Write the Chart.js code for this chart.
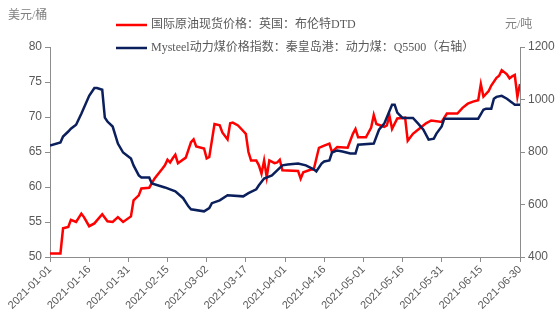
<!DOCTYPE html>
<html>
<head>
<meta charset="utf-8">
<script src="https://cdn.jsdelivr.net/npm/chart.js@4.4.1/dist/chart.umd.min.js"></script>
<style>
  html, body { margin: 0; padding: 0; background: #ffffff; }
  #wrap { width: 558px; height: 336px; position: relative; }
</style>
</head>
<body>
<div id="wrap"><canvas id="c" width="558" height="336"></canvas></div>
<script>
// ---- data ----
const oilLabel = "国际原油现货价格：英国：布伦特DTD";
const coalLabel = "Mysteel动力煤价格指数：秦皇岛港：动力煤：Q5500（右轴）";
const leftUnit = "美元/桶";
const rightUnit = "元/吨";

const oilDates = [
  "2021-01-01","2021-01-05","2021-01-06","2021-01-08","2021-01-09","2021-01-11","2021-01-13","2021-01-14",
  "2021-01-16","2021-01-18","2021-01-21","2021-01-23","2021-01-25","2021-01-27","2021-01-29","2021-02-01",
  "2021-02-02","2021-02-04","2021-02-05","2021-02-08","2021-02-10","2021-02-13","2021-02-14","2021-02-15",
  "2021-02-16","2021-02-17","2021-02-18","2021-02-19","2021-02-22","2021-02-24","2021-02-25","2021-02-26",
  "2021-03-01","2021-03-02","2021-03-03","2021-03-05","2021-03-07","2021-03-08","2021-03-10","2021-03-11",
  "2021-03-12","2021-03-14","2021-03-16","2021-03-17","2021-03-18","2021-03-19","2021-03-21","2021-03-22",
  "2021-03-23","2021-03-24","2021-03-25","2021-03-26","2021-03-28","2021-03-29","2021-03-30","2021-03-31",
  "2021-04-06","2021-04-07","2021-04-08","2021-04-11","2021-04-12","2021-04-14","2021-04-16","2021-04-18",
  "2021-04-19","2021-04-21","2021-04-25","2021-04-27","2021-04-28","2021-04-29","2021-05-02","2021-05-04",
  "2021-05-05","2021-05-06","2021-05-09","2021-05-10","2021-05-11","2021-05-12","2021-05-14","2021-05-17",
  "2021-05-18","2021-05-20","2021-05-23","2021-05-25","2021-05-27","2021-05-31","2021-06-02","2021-06-06",
  "2021-06-08","2021-06-10","2021-06-12","2021-06-14","2021-06-15","2021-06-16","2021-06-18","2021-06-19",
  "2021-06-21","2021-06-22","2021-06-23","2021-06-25","2021-06-26","2021-06-27","2021-06-28","2021-06-29",
  "2021-06-30"
];
const oilValues = [
  50.5,50.5,54.1,54.3,55.3,55.0,56.2,55.7,
  54.4,54.8,56.1,55.1,55.0,55.7,55.0,55.8,
  58.1,58.8,59.8,59.9,61.2,62.6,63.1,63.9,
  63.5,64.1,64.6,63.4,64.2,66.4,66.8,65.8,
  65.5,64.1,64.3,69.0,68.8,67.8,66.8,69.1,
  69.2,68.8,68.0,67.6,65.0,63.8,63.8,63.1,
  61.9,63.8,61.4,63.8,63.4,63.5,63.9,62.4,
  62.3,61.2,62.1,62.5,62.5,65.6,65.9,66.2,
  65.0,65.7,65.6,67.6,68.3,67.1,67.1,68.5,
  70.3,69.0,68.6,68.8,70.2,68.3,69.8,69.9,
  66.6,67.6,68.5,69.1,69.5,69.3,70.5,70.5,
  71.3,71.9,72.2,72.4,74.7,72.9,73.7,74.5,
  75.6,75.9,76.7,76.1,75.5,75.8,76.0,72.9,
  74.7
];

const coalDates = [
  "2021-01-01","2021-01-05","2021-01-06","2021-01-08","2021-01-09","2021-01-11","2021-01-13","2021-01-16",
  "2021-01-18","2021-01-19","2021-01-21","2021-01-22","2021-01-23","2021-01-25","2021-01-27","2021-01-29",
  "2021-02-01","2021-02-02","2021-02-04","2021-02-05","2021-02-08","2021-02-09","2021-02-14","2021-02-18",
  "2021-02-21","2021-02-23","2021-02-24","2021-03-01","2021-03-03","2021-03-04","2021-03-07","2021-03-10",
  "2021-03-16","2021-03-18","2021-03-21","2021-03-22","2021-03-24","2021-03-27","2021-03-29","2021-03-31",
  "2021-04-02","2021-04-06","2021-04-09","2021-04-12","2021-04-13","2021-04-15","2021-04-16","2021-04-18",
  "2021-04-19","2021-04-21","2021-04-23","2021-04-26","2021-04-28","2021-04-29","2021-05-05","2021-05-07",
  "2021-05-09","2021-05-12","2021-05-13","2021-05-14","2021-05-16","2021-05-20","2021-05-22","2021-05-24",
  "2021-05-26","2021-05-28","2021-05-29","2021-05-31","2021-06-01","2021-06-14","2021-06-16","2021-06-17",
  "2021-06-19","2021-06-20","2021-06-21","2021-06-23","2021-06-25","2021-06-27","2021-06-28","2021-06-30"
];
const coalValues = [
  825,836,859,878,889,904,946,1014,
  1044,1044,1037,931,916,897,832,798,
  775,749,711,703,703,680,665,650,
  624,593,582,574,586,605,616,635,
  631,643,658,673,699,711,730,749,
  752,756,749,734,726,756,764,768,
  798,806,802,794,794,828,832,885,
  908,980,980,950,930,930,908,885,
  847,851,870,897,927,927,961,965,
  965,1003,1010,1014,1003,988,980,980
];

const startDate = "2021-01-01";
const endDate = "2021-06-30";
const xTickStepDays = 15;
const leftTicks = [50, 55, 60, 65, 70, 75, 80];
const rightTicks = [400, 600, 800, 1000, 1200];

// ---- helpers ----
const DAY = 86400000;
function toDay(s) {
  const p = s.split("-").map(Number);
  return Math.round((Date.UTC(p[0], p[1] - 1, p[2]) - Date.UTC(2021, 0, 1)) / DAY);
}
function dayToStr(d) {
  const dt = new Date(Date.UTC(2021, 0, 1) + d * DAY);
  const m = String(dt.getUTCMonth() + 1).padStart(2, "0");
  const dd = String(dt.getUTCDate()).padStart(2, "0");
  return dt.getUTCFullYear() + "-" + m + "-" + dd;
}
const oilPts = oilDates.map((d, i) => ({ x: toDay(d), y: oilValues[i] }));
const coalPts = coalDates.map((d, i) => ({ x: toDay(d), y: coalValues[i] }));

const axisColor = "#8c8c8c";
const textColor = "#595959";
const tickFont = { family: "'Liberation Sans', 'Noto Sans CJK SC', sans-serif", size: 12 };
const legendFont = "12px 'Liberation Serif', 'Noto Sans CJK SC', serif";
const red = "#ff0000";
const navy = "#0a1f5c";

const overlay = {
  id: "overlay",
  afterDraw(chart) {
    const ctx = chart.ctx;
    ctx.save();
    ctx.font = legendFont;
    ctx.textBaseline = "middle";
    ctx.textAlign = "left";
    // unit labels
    ctx.fillStyle = "#7f7f7f";
    ctx.fillText(leftUnit, 8, 16);
    ctx.fillText(rightUnit, 505, 25);
    // legend
    const items = [[red, oilLabel, 25], [navy, coalLabel, 48]];
    items.forEach(([c, t, y]) => {
      ctx.strokeStyle = c;
      ctx.lineWidth = 2.5;
      ctx.beginPath();
      ctx.moveTo(116, y);
      ctx.lineTo(147, y);
      ctx.stroke();
      ctx.fillStyle = textColor;
      ctx.fillText(t, 151, y);
    });
    ctx.restore();
  }
};

new Chart(document.getElementById("c"), {
  type: "line",
  data: {
    datasets: [
      {
        label: oilLabel,
        data: oilPts,
        yAxisID: "y",
        borderColor: red,
        borderWidth: 2.5,
        pointRadius: 0,
        tension: 0,
        order: 1
      },
      {
        label: coalLabel,
        data: coalPts,
        yAxisID: "y1",
        borderColor: navy,
        borderWidth: 2.5,
        pointRadius: 0,
        tension: 0,
        order: 0
      }
    ]
  },
  options: {
    responsive: false,
    animation: false,
    devicePixelRatio: 1,
    layout: { padding: { top: 47, left: 0, right: 0, bottom: 0 } },
    plugins: { legend: { display: false }, tooltip: { enabled: false } },
    scales: {
      x: {
        type: "linear",
        min: toDay(startDate),
        max: toDay(endDate),
        afterBuildTicks(scale) {
          const t = [];
          for (let d = scale.min; d <= scale.max; d += xTickStepDays) t.push({ value: d });
          scale.ticks = t;
        },
        afterFit(scale) { scale.height = 79; },
        border: { display: true, color: axisColor, width: 1 },
        grid: { drawOnChartArea: false, drawTicks: true, tickLength: 5, color: axisColor },
        ticks: {
          autoSkip: false,
          maxRotation: 45,
          minRotation: 45,
          padding: 1,
          color: textColor,
          font: { family: tickFont.family, size: 11 },
          callback: (v) => dayToStr(v)
        }
      },
      y: {
        position: "left",
        min: 50,
        max: 80,
        afterBuildTicks(scale) { scale.ticks = leftTicks.map(v => ({ value: v })); },
        afterFit(scale) { scale.width = 50; },
        border: { display: true, color: axisColor, width: 1 },
        grid: { drawOnChartArea: false, drawTicks: true, tickLength: 5, color: axisColor },
        ticks: { padding: 3, color: textColor, font: tickFont, callback: (v) => String(v) }
      },
      y1: {
        position: "right",
        min: 400,
        max: 1200,
        afterBuildTicks(scale) { scale.ticks = rightTicks.map(v => ({ value: v })); },
        afterFit(scale) { scale.width = 38; },
        border: { display: true, color: axisColor, width: 1 },
        grid: { drawOnChartArea: false, drawTicks: true, tickLength: 5, color: axisColor },
        ticks: { padding: 3, color: textColor, font: tickFont, callback: (v) => String(v) }
      }
    }
  },
  plugins: [overlay]
});
</script>
</body>
</html>
